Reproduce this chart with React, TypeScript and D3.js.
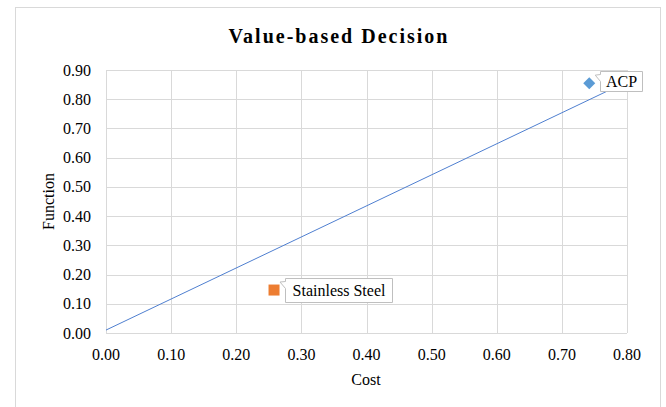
import React from "react";
import * as d3 from "d3";

const xTicks = [0, 0.1, 0.2, 0.3, 0.4, 0.5, 0.6, 0.7, 0.8];
const yTicks = [0, 0.1, 0.2, 0.3, 0.4, 0.5, 0.6, 0.7, 0.8, 0.9];
const pointNames = ["ACP", "Stainless Steel"];
const pointCost = [0.742, 0.258];
const pointFunction = [0.855, 0.147];
const pointColors = ["#5b9bd5", "#ed7d31"];
const lineCost = [0.0, 0.8];
const lineFunction = [0.01, 0.86];

const W = 666;
const H = 407;
const left = 106;
const right = 627;
const top = 70;
const bottom = 333;

export default function App() {
  const x = d3.scaleLinear().domain([0, 0.8]).range([left, right]);
  const y = d3.scaleLinear().domain([0, 0.9]).range([bottom, top]);
  const line = d3
    .line<number>()
    .x((_, i) => x(lineCost[i]))
    .y((d) => y(d));
  const font = "'Liberation Serif', 'Times New Roman', serif";

  const callout = (bx: number, by: number, bw: number, bh: number, px: number, py: number) => {
    const n1 = by + 3;
    const n2 = by + 10;
    return `M${bx},${by} H${bx + bw} V${by + bh} H${bx} V${n2} L${px},${py} L${bx},${n1} Z`;
  };

  return (
    <svg
      width={W}
      height={H}
      style={{ position: "absolute", left: 0, top: 0, background: "#fff" }}
      fontFamily={font}
    >
      <rect x={0} y={0} width={W} height={H} fill="#fff" />
      <rect x={15.5} y={7.5} width={645} height={420} fill="#fff" stroke="#d9d9d9" strokeWidth={1} />
      <text
        x={339}
        y={43}
        textAnchor="middle"
        fontSize={20}
        fontWeight="bold"
        letterSpacing={2}
        fill="#000"
      >
        Value-based Decision
      </text>
      {yTicks.map((t) => (
        <line
          key={"gy" + t}
          x1={left}
          x2={right}
          y1={Math.round(y(t)) + 0.5}
          y2={Math.round(y(t)) + 0.5}
          stroke="#d9d9d9"
          strokeWidth={1}
        />
      ))}
      {xTicks.map((t) => (
        <line
          key={"gx" + t}
          x1={Math.round(x(t)) + 0.5}
          x2={Math.round(x(t)) + 0.5}
          y1={top}
          y2={bottom}
          stroke="#d9d9d9"
          strokeWidth={1}
        />
      ))}
      {yTicks.map((t) => (
        <text key={"ty" + t} x={91} y={y(t) + 5.5} textAnchor="end" fontSize={16} fill="#000">
          {t.toFixed(2)}
        </text>
      ))}
      {xTicks.map((t) => (
        <text key={"tx" + t} x={x(t)} y={360} textAnchor="middle" fontSize={16} fill="#000">
          {t.toFixed(2)}
        </text>
      ))}
      <text x={366} y={385} textAnchor="middle" fontSize={16} fill="#000">
        Cost
      </text>
      <text
        transform={`translate(54,${(top + bottom) / 2}) rotate(-90)`}
        textAnchor="middle"
        fontSize={16}
        fill="#000"
      >
        Function
      </text>
      <path d={line(lineFunction) || ""} fill="none" stroke="#4f7fd0" strokeWidth={1} />
      <path
        d={`M${x(pointCost[0])},${y(pointFunction[0]) - 6} l6,6 l-6,6 l-6,-6 Z`}
        fill={pointColors[0]}
      />
      <rect
        x={x(pointCost[1]) - 5.5}
        y={y(pointFunction[1]) - 5.5}
        width={11}
        height={11}
        fill={pointColors[1]}
      />
      <path
        d={callout(600.5, 71.5, 42, 20, x(pointCost[0]) + 6, y(pointFunction[0]) - 8)}
        fill="#fff"
        stroke="#bfbfbf"
        strokeWidth={1}
      />
      <text x={621.5} y={87} textAnchor="middle" fontSize={16} fill="#000">
        {pointNames[0]}
      </text>
      <path
        d={callout(285.5, 278.5, 107, 24, x(pointCost[1]) + 6, y(pointFunction[1]) - 8)}
        fill="#fff"
        stroke="#bfbfbf"
        strokeWidth={1}
      />
      <text x={339} y={296} textAnchor="middle" fontSize={16} fill="#000">
        {pointNames[1]}
      </text>
    </svg>
  );
}
